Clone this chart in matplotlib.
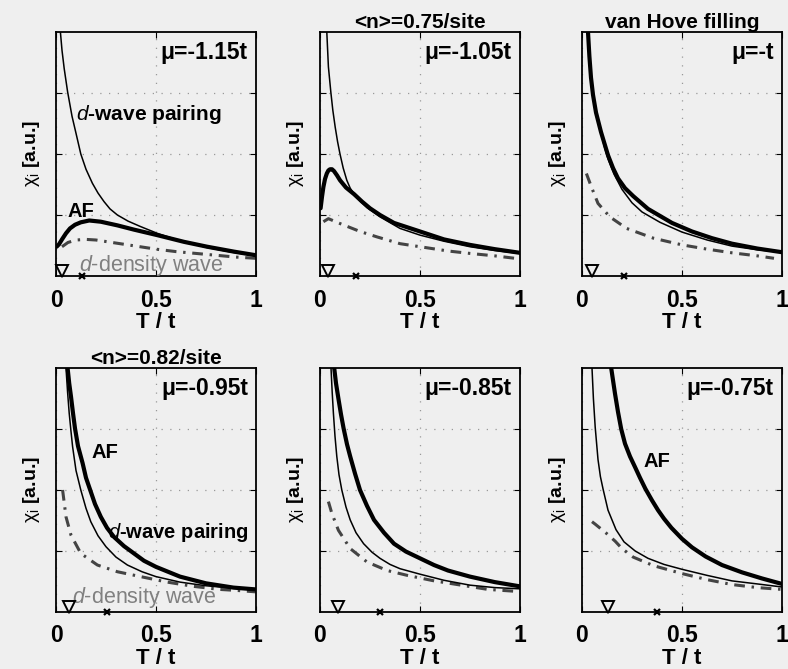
import matplotlib
matplotlib.use("Agg")
import matplotlib.pyplot as plt

plt.rcParams['font.family'] = ['Liberation Sans', 'DejaVu Sans']
plt.rcParams['mathtext.fontset'] = 'custom'
plt.rcParams['mathtext.rm'] = 'Liberation Sans'
plt.rcParams['mathtext.it'] = 'Liberation Sans:italic'
plt.rcParams['mathtext.bf'] = 'Liberation Sans:bold'

# ---------------- data ----------------
mu_labels = ["μ=-1.15t", "μ=-1.05t", "μ=-t", "μ=-0.95t", "μ=-0.85t", "μ=-0.75t"]
titles = ["", "<n>=0.75/site", "van Hove filling", "<n>=0.82/site", "", ""]

# panel 1: mu=-1.15t
p1_dsc_T = [0.015, 0.022, 0.03, 0.041, 0.058, 0.08, 0.1, 0.124, 0.15, 0.182, 0.21, 0.24, 0.27, 0.307, 0.36, 0.423, 0.506, 0.6, 0.75, 0.88, 1.0]
p1_dsc_y = [4.6, 4.0, 3.7, 3.4, 3.02, 2.62, 2.34, 2.0, 1.75, 1.52, 1.36, 1.22, 1.1, 1.0, 0.9, 0.81, 0.70, 0.6, 0.47, 0.39, 0.33]
p1_af_T = [0.003, 0.015, 0.03, 0.05, 0.07, 0.095, 0.124, 0.166, 0.224, 0.307, 0.39, 0.506, 0.64, 0.756, 0.889, 1.0]
p1_af_y = [0.48, 0.52, 0.6, 0.70, 0.78, 0.84, 0.88, 0.91, 0.89, 0.83, 0.76, 0.67, 0.56, 0.48, 0.40, 0.34]
p1_ddw_T = [0.03, 0.06, 0.1, 0.15, 0.2, 0.3, 0.4, 0.5, 0.6, 0.7, 0.8, 0.9, 1.0]
p1_ddw_y = [0.48, 0.55, 0.59, 0.60, 0.59, 0.54, 0.49, 0.44, 0.40, 0.37, 0.34, 0.31, 0.29]

# panel 2: mu=-1.05t
p2_dsc_T = [0.028, 0.034, 0.042, 0.054, 0.064, 0.076, 0.088, 0.1, 0.116, 0.134, 0.151, 0.171, 0.2, 0.235, 0.3, 0.4, 0.5, 0.62, 0.75, 0.87, 1.0]
p2_dsc_y = [4.6, 4.0, 3.43, 3.02, 2.72, 2.44, 2.2, 2.0, 1.77, 1.57, 1.44, 1.34, 1.23, 1.12, 0.97, 0.78, 0.67, 0.57, 0.48, 0.42, 0.37]
p2_af_T = [0.003, 0.01, 0.017, 0.025, 0.034, 0.042, 0.05, 0.06, 0.07, 0.085, 0.1, 0.13, 0.171, 0.21, 0.25, 0.3, 0.37, 0.5, 0.62, 0.75, 0.874, 1.0]
p2_af_y = [1.11, 1.3, 1.46, 1.59, 1.68, 1.73, 1.75, 1.75, 1.72, 1.65, 1.57, 1.45, 1.34, 1.22, 1.11, 1.0, 0.87, 0.73, 0.60, 0.51, 0.44, 0.38]
p2_ddw_T = [0.017, 0.042, 0.1, 0.2, 0.286, 0.4, 0.5, 0.64, 0.75, 0.874, 0.975]
p2_ddw_y = [0.89, 0.94, 0.86, 0.73, 0.64, 0.53, 0.48, 0.41, 0.37, 0.33, 0.29]

# panel 3: mu=-t (van Hove)
p3_af_T = [0.025, 0.03, 0.037, 0.045, 0.055, 0.07, 0.095, 0.13, 0.155, 0.18, 0.215, 0.256, 0.33, 0.45, 0.55, 0.65, 0.75, 0.877, 1.0]
p3_af_y = [4.7, 4.0, 3.6, 3.25, 2.97, 2.68, 2.36, 1.98, 1.77, 1.6, 1.44, 1.31, 1.1, 0.87, 0.73, 0.62, 0.53, 0.45, 0.39]
p3_dsc_T = [0.025, 0.03, 0.037, 0.045, 0.055, 0.07, 0.095, 0.115, 0.13, 0.16, 0.2, 0.25, 0.3, 0.39, 0.5, 0.626, 0.75, 0.877, 1.0]
p3_dsc_y = [4.7, 4.0, 3.6, 3.25, 2.97, 2.68, 2.34, 2.08, 1.92, 1.67, 1.42, 1.2, 1.05, 0.88, 0.72, 0.59, 0.49, 0.43, 0.39]
p3_ddw_T = [0.022, 0.047, 0.08, 0.139, 0.223, 0.357, 0.5, 0.626, 0.75, 0.877, 0.96]
p3_ddw_y = [1.68, 1.46, 1.19, 0.97, 0.78, 0.62, 0.51, 0.44, 0.38, 0.33, 0.29]

# panel 4: mu=-0.95t
p4_af_T = [0.052, 0.058, 0.066, 0.075, 0.085, 0.095, 0.11, 0.133, 0.15, 0.171, 0.195, 0.224, 0.255, 0.29, 0.34, 0.39, 0.44, 0.5, 0.62, 0.75, 0.887, 1.0]
p4_af_y = [4.6, 4.0, 3.75, 3.53, 3.26, 3.01, 2.72, 2.44, 2.2, 2.0, 1.77, 1.56, 1.38, 1.23, 1.08, 0.96, 0.84, 0.74, 0.58, 0.47, 0.40, 0.37]
p4_dsc_T = [0.045, 0.05, 0.058, 0.066, 0.075, 0.083, 0.1, 0.124, 0.15, 0.174, 0.21, 0.25, 0.3, 0.357, 0.43, 0.5, 0.62, 0.75, 0.887, 1.0]
p4_dsc_y = [4.6, 4.0, 3.6, 3.26, 2.96, 2.71, 2.32, 2.0, 1.7, 1.48, 1.25, 1.07, 0.9, 0.77, 0.66, 0.58, 0.49, 0.43, 0.39, 0.36]
p4_ddw_T = [0.033, 0.05, 0.075, 0.124, 0.207, 0.307, 0.423, 0.556, 0.688, 0.82, 0.92, 1.0]
p4_ddw_y = [2.0, 1.56, 1.26, 0.96, 0.77, 0.66, 0.58, 0.49, 0.42, 0.37, 0.35, 0.33]

# panel 5: mu=-0.85t
p5_dsc_T = [0.05, 0.055, 0.061, 0.067, 0.075, 0.084, 0.095, 0.109, 0.13, 0.151, 0.18, 0.218, 0.26, 0.3, 0.35, 0.4, 0.5, 0.62, 0.75, 0.874, 1.0]
p5_dsc_y = [4.6, 4.0, 3.6, 3.26, 2.88, 2.55, 2.25, 2.0, 1.72, 1.51, 1.3, 1.12, 0.98, 0.88, 0.78, 0.71, 0.62, 0.52, 0.44, 0.40, 0.38]
p5_af_T = [0.064, 0.071, 0.08, 0.092, 0.105, 0.118, 0.135, 0.151, 0.175, 0.2, 0.235, 0.27, 0.32, 0.37, 0.43, 0.5, 0.57, 0.64, 0.75, 0.874, 1.0]
p5_af_y = [4.6, 4.0, 3.75, 3.5, 3.24, 3.01, 2.75, 2.55, 2.27, 2.0, 1.74, 1.51, 1.3, 1.12, 0.99, 0.88, 0.77, 0.68, 0.58, 0.49, 0.42]
p5_ddw_T = [0.042, 0.059, 0.092, 0.151, 0.235, 0.336, 0.437, 0.571, 0.706, 0.84, 0.975]
p5_ddw_y = [1.81, 1.62, 1.34, 1.04, 0.82, 0.68, 0.60, 0.51, 0.44, 0.37, 0.34]

# panel 6: mu=-0.75t
p6_dsc_T = [0.045, 0.05, 0.057, 0.066, 0.08, 0.092, 0.105, 0.13, 0.17, 0.21, 0.266, 0.33, 0.41, 0.5, 0.626, 0.75, 0.877, 1.0]
p6_dsc_y = [4.6, 4.0, 3.5, 3.03, 2.5, 2.22, 2.02, 1.67, 1.35, 1.15, 1.0, 0.88, 0.78, 0.70, 0.60, 0.51, 0.46, 0.41]
p6_af_T = [0.138, 0.146, 0.155, 0.165, 0.18, 0.196, 0.215, 0.24, 0.266, 0.29, 0.317, 0.35, 0.38, 0.41, 0.447, 0.5, 0.55, 0.618, 0.7, 0.8, 0.9, 1.0]
p6_af_y = [4.2, 4.0, 3.8, 3.58, 3.28, 3.0, 2.76, 2.55, 2.37, 2.2, 2.02, 1.83, 1.67, 1.53, 1.38, 1.2, 1.06, 0.91, 0.77, 0.65, 0.55, 0.46]
p6_ddw_T = [0.05, 0.066, 0.081, 0.122, 0.166, 0.2, 0.256, 0.357, 0.5, 0.626, 0.75, 0.877, 1.0]
p6_ddw_y = [1.48, 1.44, 1.40, 1.29, 1.16, 1.04, 0.9, 0.76, 0.63, 0.53, 0.45, 0.40, 0.37]

# characteristic temperatures marked on the T axis
tri_T = [0.03, 0.042, 0.052, 0.063, 0.089, 0.13]
cross_T = [0.13, 0.18, 0.21, 0.254, 0.30, 0.374]

panels = [
    (p1_dsc_T, p1_dsc_y, p1_af_T, p1_af_y, p1_ddw_T, p1_ddw_y),
    (p2_dsc_T, p2_dsc_y, p2_af_T, p2_af_y, p2_ddw_T, p2_ddw_y),
    (p3_dsc_T, p3_dsc_y, p3_af_T, p3_af_y, p3_ddw_T, p3_ddw_y),
    (p4_dsc_T, p4_dsc_y, p4_af_T, p4_af_y, p4_ddw_T, p4_ddw_y),
    (p5_dsc_T, p5_dsc_y, p5_af_T, p5_af_y, p5_ddw_T, p5_ddw_y),
    (p6_dsc_T, p6_dsc_y, p6_af_T, p6_af_y, p6_ddw_T, p6_ddw_y),
]

# ---------------- figure ----------------
BG = '#efefef'
fig = plt.figure(figsize=(7.88, 6.69), dpi=100, facecolor=BG)
W, H = 788, 669
lefts = [56, 320, 582]
tops = [32, 368]
aw, ah = 200, 244

axes = []
for r in range(2):
    for c in range(3):
        ax = fig.add_axes([lefts[c] / W, 1 - (tops[r] + ah) / H, aw / W, ah / H])
        ax.set_facecolor(BG)
        axes.append(ax)

for i, ax in enumerate(axes):
    dT, dy, aT, ay, wT, wy = panels[i]
    ax.plot(dT, dy, color='black', lw=1.1, zorder=3, solid_joinstyle='round')
    ax.plot(aT, ay, color='black', lw=3.0, zorder=4, solid_capstyle='round', solid_joinstyle='round')
    ax.plot(wT, wy, color='#444444', lw=2.2, ls=(0, (3.5, 2.2, 0.8, 2.2)), zorder=2)
    ax.plot([tri_T[i]], [0.09], marker='v', ms=8, mfc='none', mec='black', mew=1.4,
            ls='none', clip_on=False, zorder=5)
    ax.plot([cross_T[i]], [0.0], marker='x', ms=5, mec='black', mew=1.6,
            ls='none', clip_on=False, zorder=5)
    ax.set_xlim(0, 1)
    ax.set_ylim(0, 4)
    ax.set_xticks([0, 0.5, 1])
    ax.set_xticklabels(['0', '0.5', '1'])
    ax.set_yticks([1, 2, 3])
    ax.set_yticklabels([])
    ax.tick_params(direction='in', top=True, right=True, length=4, width=0.8,
                   labelsize=16.5, pad=9)
    for lab in ax.get_xticklabels():
        lab.set_fontweight('bold')
    ax.grid(True, color='#999999', ls=(0, (1, 6)), lw=0.9)
    for s in ax.spines.values():
        s.set_linewidth(1.3)
    ax.set_xlabel('T / t', fontsize=16, fontweight='bold', labelpad=0)
    ax.set_ylabel(r'$\mathrm{\chi}_\mathrm{i}$ [a.u.]', fontsize=14, fontweight='bold', labelpad=1)
    ax.text(0.96, 0.915, mu_labels[i], transform=ax.transAxes, ha='right', va='center',
            fontsize=16.5, fontweight='bold')
    if titles[i]:
        ax.set_title(titles[i], fontsize=15, fontweight='bold', pad=3)

# curve labels
a = axes[0]
a.text(0.1, 2.64, r'$\it{d}$-wave pairing', fontsize=15, fontweight='bold', va='center')
a.text(0.055, 1.05, 'AF', fontsize=14.5, fontweight='bold', va='center')
a.text(0.115, 0.17, r'$\it{d}$-density wave', fontsize=15.5, color='#808080', va='center')
a = axes[3]
a.text(0.18, 2.61, 'AF', fontsize=14.5, fontweight='bold', va='center')
a.text(0.26, 1.31, r'$\it{d}$-wave pairing', fontsize=14.5, fontweight='bold', va='center')
a.text(0.08, 0.24, r'$\it{d}$-density wave', fontsize=15.5, color='#808080', va='center')
a = axes[5]
a.text(0.307, 2.46, 'AF', fontsize=14.5, fontweight='bold', va='center')

fig.savefig('out.png', dpi=100, facecolor=BG)
